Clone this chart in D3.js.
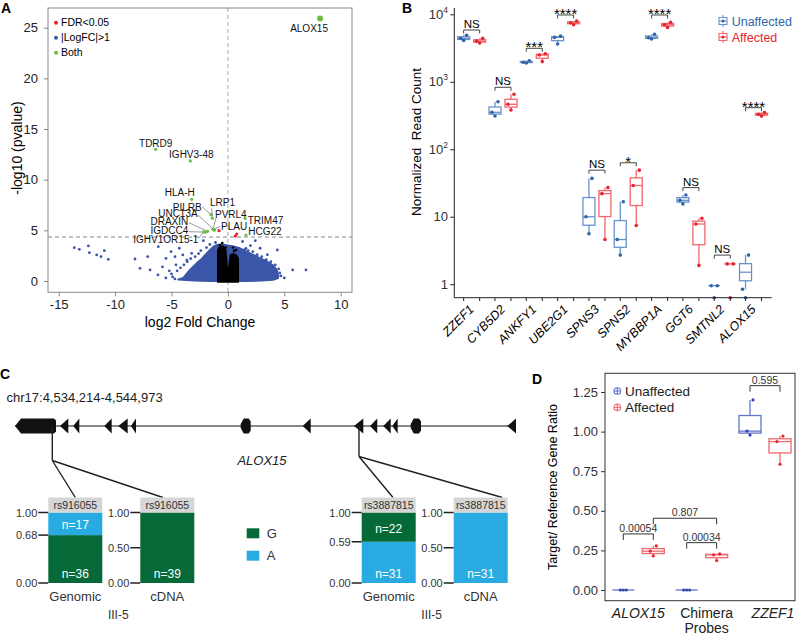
<!DOCTYPE html>
<html>
<head>
<meta charset="utf-8">
<script src="https://cdn.jsdelivr.net/npm/d3@7"></script>
<style>
body { margin: 0; background: #fff; }
svg { font-family: "Liberation Sans", Arial, sans-serif; }
</style>
</head>
<body>
<div id="fig"></div>
<script>
// ---------- A: volcano ----------
var volcLabels = ["ALOX15", "TDRD9", "IGHV3-48", "HLA-H", "PILRB", "LRP1", "PVRL4", "UNC13A", "DRAXIN", "PLAU", "IGDCC4", "IGHV1OR15-1", "TRIM47", "HCG22"];
var volcLabelFC = [8.17, -6.4, -3.33, -3.21, -1.5, -1.38, -1.33, -1.2, -1.8, -1.25, -2.0, -2.15, 1.52, 1.6];
var volcLabelP = [25.9, 13.0, 11.85, 8.06, 6.55, 6.2, 5.1, 5.02, 4.9, 5.1, 4.82, 4.85, 6.19, 4.54];
var fdrOnlyFC = [-0.79, 0.66, 0.78];
var fdrOnlyP = [4.97, 4.44, 4.64];
var scatterFC = [-13.62, -13.17, -12.37, -12.28, -11.63, -11.25, -10.95, -10.6, -8.24, -7.79, -7.11, -6.9, -6.17, -5.49, -5.04, -4.69, -4.31, -4.0, -3.65, -3.21, -2.18, -1.29, -5.8, -5.2, -4.6, -6.2, -4.9,
    -5.5, -5.0, -4.7, -4.5, -4.2, -3.9, -3.6, -3.3, -2.9, -2.6, -2.4, -1.9, -1.6, -1.1,
    1.6, 2.43, 2.85, 4.38, 5.74, 6.92, 3.5, 3.2, 4.0, 4.6, 2.0, 1.3,
    1.5, 1.8, 2.2, 2.6, 3.0, 3.4, 3.8, 4.2, 4.5, 4.7, 5.0];
var scatterP = [3.29, 3.13, 3.46, 2.8, 2.57, 2.4, 2.99, 2.14, 2.17, 1.25, 2.4, 1.09, 3.39, 2.24, 2.89, 2.4, 3.23, 2.57, 2.07, 2.73, 3.98, 3.13, 1.4, 1.0, 1.6, 0.6, 0.4,
    0.3, 0.7, 0.2, 1.0, 1.3, 1.6, 1.9, 2.2, 2.4, 2.7, 3.0, 3.3, 3.6, 3.8,
    3.22, 3.98, 3.23, 3.06, 1.09, 1.09, 2.6, 2.0, 1.5, 0.8, 3.5, 3.9,
    3.1, 3.0, 2.9, 2.6, 2.4, 2.1, 1.9, 1.6, 1.2, 0.5, 0.3];
var cloudFC = [-4.4, -3.95, -3.36, -2.77, -2.3, -1.88, -1.29, -1.0, -0.5, 0, 0.5, 1.07, 1.5, 1.96, 2.4, 2.85, 3.3, 3.73, 4.1, 4.33, 4.47, 4.45, 4.0, 3.0, 1.5, 0, -1.5, -3.0, -4.0];
var cloudP = [0.15, 0.3, 1.09, 1.74, 2.2, 2.73, 3.39, 3.55, 3.6, 3.5, 3.4, 3.23, 2.98, 2.73, 2.5, 2.24, 2.0, 1.74, 1.4, 1.09, 0.5, 0.3, 0.12, 0.04, 0, 0, 0, 0.04, 0.12];
var coreFC = [-0.9, -0.9, -0.75, -0.45, -0.18, -0.08, 0.02, 0.12, 0.22, 0.45, 0.75, 0.92, 0.92];
var coreP = [-0.1, 3.0, 3.4, 3.45, 3.05, 1.6, 0.45, 1.7, 2.55, 2.7, 2.55, 2.2, -0.1];
var coreDotFC = [-0.7, -0.5, 0.45, 0.72, 0.55, -0.2];
var coreDotP = [3.55, 3.75, 3.3, 3.05, 2.95, 3.3];
var pThreshold = 4.34;
var legendA = ["FDR<0.05", "|LogFC|>1", "Both"];

// ---------- B: read counts ----------
var genesB = ["ZZEF1", "CYB5D2", "ANKFY1", "UBE2G1", "SPNS3", "SPNS2", "MYBBP1A", "GGT6", "SMTNL2", "ALOX15"];
var unaffectedCounts = [[4100, 4400, 4900], [311, 353, 507], [1900, 1950, 2050], [3630, 4550, 4770], [5.6, 10, 37], [2.7, 4.6, 16.7], [4300, 4500, 5060], [15.5, 17.5, 21], [0, 0.95, 0.95], [0, 0.84, 2.7]];
var affectedCounts = [[3750, 4000, 4400], [382, 464, 653], [1990, 2500, 2600], [7000, 7500, 7950], [4.6, 22, 27], [7.4, 29, 49], [6400, 7000, 7600], [1.9, 7.8, 9.5], [0, 2, 2], [310, 330, 350]];
var sigLabels = ["NS", "NS", "***", "****", "NS", "*", "****", "NS", "NS", "****"];
var sigLevels = [5850, 829, 3135, 9770, 49, 63, 9770, 27, 2.7, 413];
var groups = ["Unaffected", "Affected"];

// ---------- C: allele counts ----------
var geneStart = 4534214, geneEnd = 4544973;
var exonStart = [4534214, 4535180, 4535466, 4536132, 4536432, 4536705, 4539061, 4540392, 4541494, 4541838, 4542123, 4542316, 4542712, 4544786];
var exonEnd = [4535094, 4535359, 4535595, 4536291, 4536634, 4536812, 4539276, 4540564, 4541694, 4541994, 4542282, 4542432, 4542933, 4544973];
var exonShape = ["utr", "tri", "tri", "tri", "tri", "tri", "round", "tri", "tri", "tri", "tri", "tri", "round", "tri"];
var snpNames = ["rs916055", "rs3887815"];
var snpPos = [4535015, 4541601];
var snpBottomAllele = ["G", "A"];
var barSample = ["Genomic", "cDNA"];
var countG = [[36, 39], [22, 0]];
var countA = [[17, 0], [31, 31]];
var alleles = ["G", "A"];

// ---------- D: qPCR ----------
var probesD = ["ALOX15", "Chimera Probes", "ZZEF1"];
var unaffectedRatio = [[0, 0, 0], [0, 0, 0], [0.978, 1.003, 1.2]];
var affectedRatio = [[0.215, 0.245, 0.278], [0.186, 0.222, 0.228], [0.794, 0.937, 0.972]];
var pvalLabels = ["0.00054", "0.00034", "0.807", "0.595"];
var pvalFrom = [[0, 0], [1, 0], [0, 1], [2, 0]];
var pvalTo = [[0, 1], [1, 1], [1, 1], [2, 1]];
var pvalLevel = [0.354, 0.299, 0.453, 1.29];

var colA = {blue: "#3b55a8", red: "#e8232a", green: "#6bbf45", black: "#000"};
var colB = {pt: ["#2f64a8", "#e8242f"], box: ["#6a93cb", "#f0676d"]};
var colD = {pt: ["#3346b0", "#e8242f"], box: ["#6475c8", "#ef6a70"]};

var svg = d3.select("#fig").append("svg")
    .attr("width", 796)
    .attr("height", 634);

function panelLetter(t, x, y) {
    svg.append("text").attr("x", x).attr("y", y).text(t)
        .attr("font-size", 14).attr("font-weight", 900);
}
panelLetter("A", 1, 13);
panelLetter("B", 402, 13);
panelLetter("C", 0, 379);
panelLetter("D", 532, 384);

// ================= A =================
var gA = svg.append("g");
var xA = d3.scaleLinear().domain([-15, 10]).range([58.7, 340.7]);
var yA = d3.scaleLinear().domain([0, 25]).range([281, 27.7]);
var boxA = {x0: 48, x1: 352, y0: 8, y1: 292.3};

svg.append("defs").append("clipPath").attr("id", "clipA")
    .append("rect").attr("x", boxA.x0).attr("y", boxA.y0)
    .attr("width", boxA.x1 - boxA.x0).attr("height", boxA.y1 - boxA.y0);

var plotA = gA.append("g").attr("clip-path", "url(#clipA)");

plotA.append("line")
    .attr("x1", xA(0)).attr("x2", xA(0)).attr("y1", boxA.y0).attr("y2", boxA.y1)
    .attr("stroke", "#aaa").attr("stroke-dasharray", "4,3");
plotA.append("line")
    .attr("x1", boxA.x0).attr("x2", boxA.x1).attr("y1", yA(pThreshold)).attr("y2", yA(pThreshold))
    .attr("stroke", "#888").attr("stroke-dasharray", "4,3");

var areaLine = d3.line().x(function (d) { return xA(d[0]); }).y(function (d) { return yA(d[1]); });
plotA.append("path")
    .attr("d", areaLine(d3.zip(cloudFC, cloudP)) + "Z")
    .attr("fill", colA.blue).attr("stroke", colA.blue).attr("stroke-width", 2).attr("stroke-linejoin", "round");
plotA.selectAll(".sc").data(d3.zip(scatterFC, scatterP)).enter()
    .append("circle").attr("class", "sc")
    .attr("cx", function (d) { return xA(d[0]); })
    .attr("cy", function (d) { return yA(d[1]); })
    .attr("r", 1.4).attr("fill", colA.blue);
plotA.append("path")
    .attr("d", areaLine(d3.zip(coreFC, coreP)) + "Z")
    .attr("fill", "#000").attr("stroke", "#000").attr("stroke-width", 1.5).attr("stroke-linejoin", "round");
plotA.selectAll(".cd").data(d3.zip(coreDotFC, coreDotP)).enter()
    .append("circle").attr("class", "cd")
    .attr("cx", function (d) { return xA(d[0]); })
    .attr("cy", function (d) { return yA(d[1]); })
    .attr("r", 1.3).attr("fill", "#000");
plotA.selectAll(".fd").data(d3.zip(fdrOnlyFC, fdrOnlyP)).enter()
    .append("circle").attr("class", "fd")
    .attr("cx", function (d) { return xA(d[0]); })
    .attr("cy", function (d) { return yA(d[1]); })
    .attr("r", 1.6).attr("fill", colA.red);

// label placement relative to each labelled point (px), leader start relative to text anchor
var volcLayout = [
    {anchor: "middle", dx: -11, dy: 13.6},
    {anchor: "middle", dx: 0, dy: -2.5},
    {anchor: "middle", dx: 1, dy: -3},
    {anchor: "middle", dx: -12, dy: -3},
    {anchor: "end", dx: -9.3, dy: -4.1, lx: 0.5, ly: -3.8},
    {anchor: "start", dx: -2.3, dy: -12, lx: 1.7, ly: 2.3},
    {anchor: "start", dx: 2.1, dy: -11.8, lx: 1, ly: 0.5},
    {anchor: "end", dx: -16.7, dy: -13, lx: 0.5, ly: -2},
    {anchor: "end", dx: -19.3, dy: -6.4, lx: 0.5, ly: -2.3},
    {anchor: "start", dx: 7.2, dy: 0.2, lx: -1, ly: -3},
    {anchor: "end", dx: -17, dy: 1.8, lx: 0.5, ly: -2.3},
    {anchor: "end", dx: -5.3, dy: 11, lx: 0.5, ly: -4.7},
    {anchor: "start", dx: 2.7, dy: 5.7},
    {anchor: "start", dx: 2.3, dy: -0.5}
];

volcLabels.forEach(function (name, i) {
    var px = xA(volcLabelFC[i]), py = yA(volcLabelP[i]);
    var L = volcLayout[i];
    var tx = px + L.dx, ty = py + L.dy;
    if (L.lx !== undefined) {
        gA.append("line")
            .attr("x1", tx + L.lx).attr("y1", ty + L.ly).attr("x2", px).attr("y2", py)
            .attr("stroke", "#555").attr("stroke-width", 0.6);
    }
    gA.append("circle").attr("cx", px).attr("cy", py)
        .attr("r", i === 0 ? 3 : 1.6).attr("fill", colA.green);
    gA.append("text").attr("x", tx).attr("y", ty).text(name)
        .attr("text-anchor", L.anchor).attr("font-size", 10).attr("fill", "#111");
});

gA.append("rect")
    .attr("x", boxA.x0).attr("y", boxA.y0)
    .attr("width", boxA.x1 - boxA.x0).attr("height", boxA.y1 - boxA.y0)
    .attr("fill", "none").attr("stroke", "#888");

var axA = gA.append("g").attr("transform", "translate(0," + boxA.y1 + ")")
    .call(d3.axisBottom(xA).tickValues([-15, -10, -5, 0, 5, 10]).tickSize(4).tickPadding(3)
        .tickFormat(function (d) { return String(d); }));
var ayA = gA.append("g").attr("transform", "translate(" + boxA.x0 + ",0)")
    .call(d3.axisLeft(yA).tickValues([0, 5, 10, 15, 20, 25]).tickSize(4).tickPadding(6));
[axA, ayA].forEach(function (a) {
    a.select(".domain").remove();
    a.selectAll("line").attr("stroke", "#888");
    a.selectAll("text").attr("font-size", 13).attr("fill", "#222").attr("font-family", "Liberation Sans, Arial, sans-serif");
});

gA.append("text").attr("x", (boxA.x0 + boxA.x1) / 2).attr("y", 327)
    .attr("text-anchor", "middle").attr("font-size", 14).text("log2 Fold Change");
gA.append("text").attr("transform", "translate(22,148) rotate(-90)")
    .attr("text-anchor", "middle").attr("font-size", 14).text("-log10 (pvalue)");

var legColA = [colA.red, colA.blue, colA.green];
legendA.forEach(function (t, i) {
    gA.append("circle").attr("cx", 56).attr("cy", 22.7 + i * 15).attr("r", 2).attr("fill", legColA[i]);
    gA.append("text").attr("x", 61).attr("y", 26.3 + i * 15).attr("font-size", 10.5).text(t);
});

// ================= B =================
var gB = svg.append("g");
var yB = d3.scaleLog().domain([0.631, 12400]).range([297.7, 8]);
var xB = d3.scaleBand().domain(genesB).range([456, 769.2]);
var dodgeB = 8, boxWB = 12;
var jitter = [0, -3, 3];

// box statistics in log space, zeros dropped (as on a log axis)
function logStats(vals) {
    var v = vals.filter(function (d) { return d > 0; }).map(Math.log10).sort(d3.ascending);
    return {
        lo: Math.pow(10, v[0]), hi: Math.pow(10, v[v.length - 1]),
        q1: Math.pow(10, d3.quantile(v, 0.25)), med: Math.pow(10, d3.quantile(v, 0.5)),
        q3: Math.pow(10, d3.quantile(v, 0.75))
    };
}
function yBv(v) { return v > 0 ? yB(v) : yB.range()[0]; }
function cxB(i, g) { return xB(genesB[i]) + xB.bandwidth() / 2 + (g === 0 ? -dodgeB : dodgeB); }

[unaffectedCounts, affectedCounts].forEach(function (set, g) {
    set.forEach(function (vals, i) {
        var s = logStats(vals), cx = cxB(i, g);
        var bg = gB.append("g").attr("stroke", colB.box[g]).attr("stroke-width", 1.3).attr("fill", "none");
        bg.append("line").attr("x1", cx).attr("x2", cx).attr("y1", yB(s.hi)).attr("y2", yB(s.q3));
        bg.append("line").attr("x1", cx).attr("x2", cx).attr("y1", yB(s.q1)).attr("y2", yB(s.lo));
        bg.append("rect").attr("x", cx - boxWB / 2).attr("width", boxWB)
            .attr("y", yB(s.q3)).attr("height", Math.max(0, yB(s.q1) - yB(s.q3)));
        bg.append("line").attr("x1", cx - boxWB / 2).attr("x2", cx + boxWB / 2)
            .attr("y1", yB(s.med)).attr("y2", yB(s.med));
        vals.forEach(function (v, k) {
            gB.append("circle").attr("cx", cx + jitter[k]).attr("cy", yBv(v))
                .attr("r", 1.8).attr("fill", colB.pt[g]);
        });
    });
});

sigLabels.forEach(function (lab, i) {
    var y = yB(sigLevels[i]), x1 = cxB(i, 0), x2 = cxB(i, 1);
    gB.append("path")
        .attr("d", "M" + x1 + "," + (y + 3.5) + "V" + y + "H" + x2 + "V" + (y + 3.5))
        .attr("fill", "none").attr("stroke", "#444").attr("stroke-width", 1);
    var star = lab.indexOf("*") === 0;
    gB.append("text").attr("x", (x1 + x2) / 2).attr("y", star ? y + 4 : y - 2)
        .attr("text-anchor", "middle").attr("font-size", star ? 15 : 11.5).text(lab);
});

var axB = gB.append("g").attr("transform", "translate(454.3,0)")
    .call(d3.axisLeft(yB).tickValues([1, 10, 100, 1000, 10000]).tickSize(4).tickSizeOuter(0).tickFormat(""));
axB.select(".domain").attr("d", "M0," + yB.range()[1] + "V" + yB.range()[0]);
axB.selectAll("line, path").attr("stroke", "#222");
[1, 10, 100, 1000, 10000].forEach(function (v) {
    var e = Math.round(Math.log10(v));
    var t = gB.append("text").attr("x", 448).attr("y", yB(v) + 4.5)
        .attr("text-anchor", "end").attr("font-size", 13).attr("fill", "#333");
    if (e <= 1) { t.text(String(v)); }
    else {
        t.append("tspan").text("10");
        t.append("tspan").attr("dy", -6).attr("font-size", 8.5).text(e);
    }
});
gB.append("line").attr("x1", 454.3).attr("x2", 771.7).attr("y1", 297.7).attr("y2", 297.7).attr("stroke", "#222");
genesB.forEach(function (gname, i) {
    [0, 1].forEach(function (g) {
        gB.append("line").attr("x1", cxB(i, g)).attr("x2", cxB(i, g))
            .attr("y1", 297.7).attr("y2", 301).attr("stroke", "#222");
    });
    var cx = xB(gname) + xB.bandwidth() / 2 + 3;
    gB.append("text").attr("transform", "translate(" + cx + ",310) rotate(-45)")
        .attr("text-anchor", "end").attr("font-size", 12.5).attr("font-style", "italic").text(gname);
});
gB.append("text").attr("transform", "translate(421,142) rotate(-90)")
    .attr("text-anchor", "middle").attr("font-size", 13.5).attr("xml:space", "preserve")
    .text("Normalized  Read Count");

groups.forEach(function (gname, g) {
    var ly = 21 + g * 16, lx = 723;
    var lg = gB.append("g").attr("stroke", colB.box[g]).attr("fill", "none").attr("stroke-width", 1.1);
    lg.append("rect").attr("x", lx - 4).attr("y", ly - 3.5).attr("width", 8).attr("height", 7);
    lg.append("line").attr("x1", lx - 4).attr("x2", lx + 4).attr("y1", ly).attr("y2", ly);
    lg.append("line").attr("x1", lx).attr("x2", lx).attr("y1", ly - 6).attr("y2", ly - 3.5);
    lg.append("line").attr("x1", lx).attr("x2", lx).attr("y1", ly + 3.5).attr("y2", ly + 6);
    gB.append("circle").attr("cx", lx).attr("cy", ly).attr("r", 1.5).attr("fill", colB.pt[g]);
    gB.append("text").attr("x", 731.7).attr("y", ly + 4.5).attr("font-size", 12.5)
        .attr("fill", colB.pt[g]).text(gname);
});

// ================= C =================
var gC = svg.append("g");
var geneY = 426;
var xGene = d3.scaleLinear().domain([geneStart, geneEnd]).range([15, 516]);
var alleleColor = {G: "#066a38", A: "#29abe2"};

gC.append("text").attr("x", 6.5).attr("y", 402).attr("font-size", 13).attr("fill", "#222")
    .text("chr17:4,534,214-4,544,973");
gC.append("line").attr("x1", xGene(geneStart)).attr("x2", xGene(geneEnd))
    .attr("y1", geneY).attr("y2", geneY).attr("stroke", "#111").attr("stroke-width", 1.2);

exonStart.forEach(function (s, i) {
    var x0 = xGene(s), x1 = xGene(exonEnd[i]), h = 7.5, y = geneY, pts;
    if (exonShape[i] === "utr") {
        pts = [[x0, y], [x0 + 6, y - h], [x1 - 2, y - h], [x1, y - h + 2], [x1, y + h - 2], [x1 - 2, y + h], [x0 + 6, y + h]];
    } else if (exonShape[i] === "tri") {
        pts = [[x0, y], [x1, y - h], [x1, y + h]];
    } else {
        pts = [[x0, y - 2], [x0 + 3, y - h], [x1 - 2, y - h], [x1, y - h + 3], [x1, y + h - 3], [x1 - 2, y + h], [x0 + 3, y + h], [x0, y + 2]];
    }
    gC.append("polygon").attr("points", pts.map(function (p) { return p.join(","); }).join(" "))
        .attr("fill", "#111");
});
gC.append("text").attr("x", 262).attr("y", 464.5).attr("text-anchor", "middle")
    .attr("font-size", 13).attr("font-style", "italic").attr("fill", "#222").text("ALOX15");

var groupLeft = [48.3, 361.7];
var kneeY = [460.5, 456.5];
var leadFrac = [[0.5, 0.42], [0.58, 0.9]];
var xPair = d3.scaleBand().domain(barSample).range([0, 146]).paddingInner(0.413);
var yBar = d3.scaleLinear().domain([0, 1]).range([583, 512.5]);
var labelH = 15;
function round2(x) { return Math.round(Math.round(x * 1000) / 10) / 100; }

snpNames.forEach(function (snp, s) {
    var sx = xGene(snpPos[s]);
    var path = "M" + sx + "," + geneY + "V" + kneeY[s];
    barSample.forEach(function (smp, b) {
        var bx = groupLeft[s] + xPair(smp);
        path += "M" + sx + "," + kneeY[s] + "L" + (bx + xPair.bandwidth() * leadFrac[s][b]) + "," + (yBar(1) - labelH);
    });
    gC.append("path").attr("d", path).attr("fill", "none").attr("stroke", "#222").attr("stroke-width", 1.4);

    barSample.forEach(function (smp, b) {
        var bx = groupLeft[s] + xPair(smp), bw = xPair.bandwidth();
        var nG = countG[s][b], nA = countA[s][b], tot = nG + nA;
        var order = snpBottomAllele[s] === "G" ? ["G", "A"] : ["A", "G"];
        var n = {G: nG, A: nA};
        var base = 0;
        order.forEach(function (al, k) {
            var frac = n[al] / tot;
            if (frac <= 0) return;
            gC.append("rect").attr("x", bx).attr("width", bw)
                .attr("y", yBar(base + frac)).attr("height", yBar(base) - yBar(base + frac))
                .attr("fill", alleleColor[al]);
            var ty = k === 0 ? yBar(0) - 5 : (yBar(base) + yBar(base + frac)) / 2 + 5.5;
            gC.append("text").attr("x", bx + bw / 2).attr("y", ty).attr("text-anchor", "middle")
                .attr("font-size", 12).attr("fill", "#fff").text("n=" + n[al]);
            base += frac;
        });
        gC.append("rect").attr("x", bx).attr("width", bw).attr("y", yBar(1) - labelH).attr("height", labelH)
            .attr("fill", "#d6d6d6");
        gC.append("text").attr("x", bx + bw / 2).attr("y", yBar(1) - 3.5).attr("text-anchor", "middle")
            .attr("font-size", 10.5).attr("fill", "#333").text(snp);
        var bottomFrac = n[order[0]] / tot;
        var ticks = bottomFrac > 0 && bottomFrac < 1 ? [0, bottomFrac, 1] : [0, 0.5, 1];
        ticks.forEach(function (t) {
            gC.append("line").attr("x1", bx - 10).attr("x2", bx).attr("y1", yBar(t)).attr("y2", yBar(t))
                .attr("stroke", "#222").attr("stroke-width", 1.5);
            gC.append("text").attr("x", bx - 11).attr("y", yBar(t) + 4).attr("text-anchor", "end")
                .attr("font-size", 11).attr("fill", "#333").text(d3.format(".2f")(round2(t)));
        });
        gC.append("text").attr("x", bx + bw / 2).attr("y", 601).attr("text-anchor", "middle")
            .attr("font-size", 13).attr("fill", "#333").text(smp);
    });
    gC.append("text").attr("x", groupLeft[s] + 70).attr("y", 618.5).attr("text-anchor", "middle")
        .attr("font-size", 12).attr("fill", "#333").text("III-5");
});

alleles.forEach(function (al, i) {
    gC.append("rect").attr("x", 246.7).attr("y", 528.3 + i * 22.4).attr("width", 12.6).attr("height", 10)
        .attr("fill", alleleColor[al]);
    gC.append("text").attr("x", 266.7).attr("y", 538 + i * 22.4).attr("font-size", 13).attr("fill", "#333").text(al);
});

// ================= D =================
var gD = svg.append("g");
var yD = d3.scaleLinear().domain([-0.0675, 1.368]).range([600.7, 373.3]);
var xD = d3.scalePoint().domain(probesD).range([638.3, 765]);
var dodgeD = 15, boxWD = 22;
var labelShiftD = [0, 5, 8];
function cxD(i, g) { return xD(probesD[i]) + (g === 0 ? -dodgeD : dodgeD); }

[unaffectedRatio, affectedRatio].forEach(function (set, g) {
    set.forEach(function (vals, i) {
        var v = vals.slice().sort(d3.ascending), cx = cxD(i, g);
        var q1 = d3.quantile(v, 0.25), med = d3.quantile(v, 0.5), q3 = d3.quantile(v, 0.75);
        var bg = gD.append("g").attr("stroke", colD.box[g]).attr("stroke-width", 1.3).attr("fill", "none");
        bg.append("line").attr("x1", cx).attr("x2", cx).attr("y1", yD(v[v.length - 1])).attr("y2", yD(q3));
        bg.append("line").attr("x1", cx).attr("x2", cx).attr("y1", yD(q1)).attr("y2", yD(v[0]));
        bg.append("rect").attr("x", cx - boxWD / 2).attr("width", boxWD)
            .attr("y", yD(q3)).attr("height", yD(q1) - yD(q3));
        bg.append("line").attr("x1", cx - boxWD / 2).attr("x2", cx + boxWD / 2).attr("y1", yD(med)).attr("y2", yD(med));
        vals.forEach(function (val, k) {
            gD.append("circle").attr("cx", cx + jitter[k]).attr("cy", yD(val)).attr("r", 1.6).attr("fill", colD.pt[g]);
        });
    });
});

pvalLabels.forEach(function (lab, k) {
    var x1 = cxD(pvalFrom[k][0], pvalFrom[k][1]), x2 = cxD(pvalTo[k][0], pvalTo[k][1]);
    var y = yD(pvalLevel[k]);
    gD.append("path").attr("d", "M" + x1 + "," + (y + 6) + "V" + y + "H" + x2 + "V" + (y + 6))
        .attr("fill", "none").attr("stroke", "#333").attr("stroke-width", 1);
    gD.append("text").attr("x", (x1 + x2) / 2).attr("y", y - 1.8).attr("text-anchor", "middle")
        .attr("font-size", 10.5).attr("fill", "#333").text(lab);
});

gD.append("rect").attr("x", 605).attr("y", 373.3).attr("width", 190).attr("height", 600.7 - 373.3)
    .attr("fill", "none").attr("stroke", "#333");
var ayD = gD.append("g").attr("transform", "translate(605,0)")
    .call(d3.axisLeft(yD).tickValues([0, 0.25, 0.5, 0.75, 1, 1.25]).tickSize(4).tickPadding(3).tickFormat(d3.format(".2f")));
ayD.select(".domain").remove();
ayD.selectAll("line").attr("stroke", "#333");
ayD.selectAll("text").attr("font-size", 13).attr("fill", "#333").attr("font-family", "Liberation Sans, Arial, sans-serif");
gD.append("text").attr("transform", "translate(557,487) rotate(-90)")
    .attr("text-anchor", "middle").attr("font-size", 12.5).text("Target/ Reference Gene Ratio");

probesD.forEach(function (p, i) {
    var x = xD(p) + labelShiftD[i];
    var words = p.split(" ");
    words.forEach(function (w, j) {
        gD.append("text").attr("x", x).attr("y", 618 + j * 14.5).attr("text-anchor", "middle")
            .attr("font-size", 14).attr("font-style", words.length === 1 ? "italic" : "normal")
            .attr("fill", "#222").text(w);
    });
});

groups.forEach(function (gname, g) {
    var lx = 617.3, ly = 391 + g * 16.3;
    var lg = gD.append("g").attr("stroke", colD.box[g]).attr("fill", "none").attr("stroke-width", 1.1);
    lg.append("circle").attr("cx", lx).attr("cy", ly).attr("r", 3.3);
    lg.append("line").attr("x1", lx - 3.3).attr("x2", lx + 3.3).attr("y1", ly).attr("y2", ly);
    lg.append("line").attr("x1", lx).attr("x2", lx).attr("y1", ly - 3.3).attr("y2", ly + 3.3);
    gD.append("text").attr("x", 625).attr("y", ly + 5).attr("font-size", 13.5).attr("fill", "#222").text(gname);
});
</script>
</body>
</html>
